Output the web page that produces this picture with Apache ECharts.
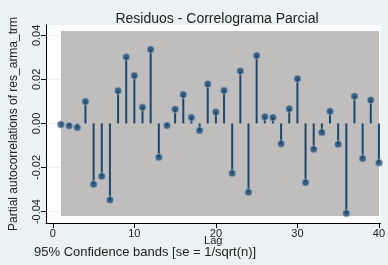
<!DOCTYPE html>
<html>
<head>
<meta charset="utf-8">
<script src="https://cdn.jsdelivr.net/npm/echarts@6/dist/echarts.min.js"></script>
<style>
  html, body { margin: 0; padding: 0; background: #eaf2f3; }
  #chart { width: 388px; height: 265px; }
</style>
</head>
<body>
<div id="chart"></div>
<script>
  // lags 1..40 and their partial autocorrelations
  var lags = [];
  for (var i = 1; i <= 40; i++) lags.push(i);
  var pacf = [
    -0.0005, -0.001, -0.0018, 0.010, -0.0276, -0.024, -0.0348, 0.0148, 0.0302, 0.0218,
    0.0074, 0.0336, -0.0153, -0.0009, 0.0064, 0.0132, 0.0027, -0.0032, 0.0179, 0.0052,
    0.015, -0.0226, 0.0238, -0.0312, 0.0309, 0.003, 0.0027, -0.0092, 0.0067, 0.0203,
    -0.0268, -0.0117, -0.0041, 0.0055, -0.0095, -0.0408, 0.0124, -0.0159, 0.0106, -0.0179
  ];
  var bandLimit = 0.042;   // 95% band, se = 1/sqrt(n)
  var xTicks = [0, 10, 20, 30, 40];
  var yTicks = [-0.04, -0.02, 0, 0.02, 0.04];

  var points = lags.map(function (l, k) { return [l, pacf[k]]; });
  var navy = '#1a476f';
  var font = '"Liberation Sans", Arial, sans-serif';

  var option = {
    animation: false,
    backgroundColor: '#eaf2f3',
    textStyle: { fontFamily: font },
    title: {
      text: 'Residuos - Correlograma Parcial',
      left: 212, top: 7, textAlign: 'center',
      textStyle: { fontSize: 14, fontWeight: 'normal', color: '#222', fontFamily: font }
    },
    graphic: [{
      type: 'text', left: 34, top: 246,
      style: { text: '95% Confidence bands [se = 1/sqrt(n)]', fontSize: 13, fill: '#222', fontFamily: font }
    }],
    grid: { left: 37, right: 7, top: 25, bottom: 42, show: true, backgroundColor: '#ffffff', borderWidth: 0 },
    xAxis: {
      type: 'value', min: -0.84, max: 40.2,
      name: 'Lag', nameLocation: 'middle', nameGap: 12, nameMoveOverlap: false,
      nameTextStyle: { fontSize: 11, color: '#222', verticalAlign: 'top' },
      axisLine: { show: true, onZero: false, lineStyle: { color: '#000' } },
      axisTick: { show: true, length: 5, customValues: xTicks, lineStyle: { color: '#000' } },
      axisLabel: { customValues: xTicks, fontSize: 11, color: '#222', margin: 5 },
      splitLine: { show: false }
    },
    yAxis: {
      type: 'value', min: -0.0452, max: 0.0447,
      name: 'Partial autocorrelations of res_arma_trm', nameLocation: 'middle', nameGap: 26,
      nameMoveOverlap: false,
      nameTextStyle: { fontSize: 12, color: '#222' },
      axisLine: { show: true, onZero: false, lineStyle: { color: '#000' } },
      axisTick: { show: true, length: 5, customValues: yTicks, lineStyle: { color: '#000' } },
      axisLabel: {
        customValues: yTicks, rotate: 90, fontSize: 11, color: '#222', margin: 4,
        formatter: function (v) { return v.toFixed(2); }
      },
      splitLine: { show: true, lineStyle: { color: '#eaf2f3', width: 1 } }
    },
    series: [
      {
        type: 'bar', data: points, barWidth: 2,
        itemStyle: { color: navy },
        markArea: {
          silent: true,
          itemStyle: { color: '#c0bebc' },
          data: [[{ coord: [1, -bandLimit] }, { coord: [40, bandLimit] }]]
        },
        z: 2
      },
      {
        type: 'scatter', data: points, symbolSize: 7,
        itemStyle: { color: navy, borderColor: 'rgba(150,175,200,0.6)', borderWidth: 1.5 },
        z: 3
      }
    ]
  };

  var myChart = echarts.init(document.getElementById('chart'));
  myChart.setOption(option);
</script>
</body>
</html>
